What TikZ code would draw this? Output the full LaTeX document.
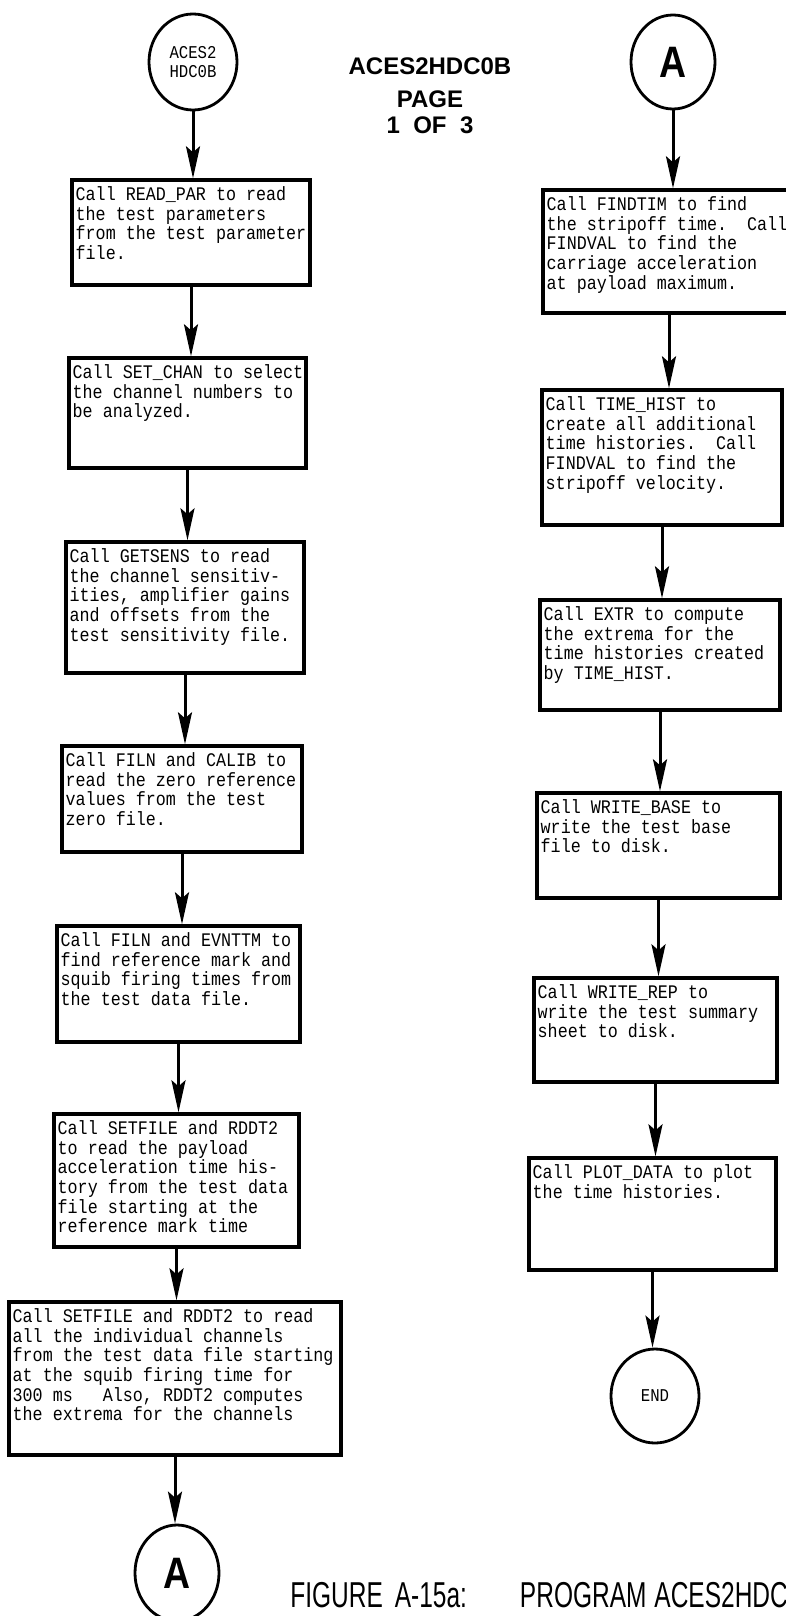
\documentclass[tikz,border=0pt]{standalone}
\usepackage{fontspec}
\usetikzlibrary{arrows.meta,shapes.geometric,fit}

\newfontfamily\boxfont[FakeStretch=0.87]{Liberation Mono}
\newfontfamily\labfont[FakeStretch=0.85]{Liberation Sans}
\newfontfamily\titlefont{Liberation Sans}
\newfontfamily\capfont[FakeStretch=0.68]{Liberation Sans}

\tikzset{
  procbox/.style={draw, line width=1.7pt, inner sep=0pt},
  boxtext/.style={anchor=north west, align=left, inner xsep=2.5pt, inner ysep=4pt,
    font={\boxfont\fontsize{9.6}{9.8}\selectfont\frenchspacing}},
  term/.style={draw, ellipse, line width=1.4pt, inner sep=0pt, align=center},
  flow/.style={line width=1.5pt, -{Stealth[length=16pt, width=7pt, inset=3pt]}},
  headtext/.style={font={\titlefont\bfseries\fontsize{12}{12}\selectfont}},
}

\begin{document}
\begin{tikzpicture}[x=0.5pt, y=-0.5pt]

    % --- Page frame (786 x 1616) ---
    \useasboundingbox (0,0) rectangle (786,1616);
    \fill[white] (0,0) rectangle (786,1616);

    % --- Heading ---
    \node[headtext] (title) at (430,66) {ACES2HDC0B};
    \node[headtext] (page) at (430,99) {PAGE};
    \node[headtext] (pageno) at (430,125) {1\ \ OF\ \ 3};

    % --- Left column ---
    \node[term, minimum width=44pt, minimum height=48pt,
          font={\boxfont\fontsize{9}{9.5}\selectfont}] (start) at (193,62) {ACES2\\HDC0B};

    \node[procbox, fit={(72,180) (310,285)}] (b1) {};
    \node[boxtext] at (b1.north west) {Call READ\_PAR to read\\the test parameters\\from the test parameter\\file.};

    \node[procbox, fit={(69,358) (306,468)}] (b2) {};
    \node[boxtext] at (b2.north west) {Call SET\_CHAN to select\\the channel numbers to\\be analyzed.};

    \node[procbox, fit={(66,542) (304,673)}] (b3) {};
    \node[boxtext] at (b3.north west) {Call GETSENS to read\\the channel sensitiv-\\ities, amplifier gains\\and offsets from the\\test sensitivity file.};

    \node[procbox, fit={(62,746) (302,852)}] (b4) {};
    \node[boxtext] at (b4.north west) {Call FILN and CALIB to\\read the zero reference\\values from the test\\zero file.};

    \node[procbox, fit={(57,926) (300,1042)}] (b5) {};
    \node[boxtext] at (b5.north west) {Call FILN and EVNTTM to\\find reference mark and\\squib firing times from\\the test data file.};

    \node[procbox, fit={(54,1114) (299,1247)}] (b6) {};
    \node[boxtext] at (b6.north west) {Call SETFILE and RDDT2\\to read the payload\\acceleration time his-\\tory from the test data\\file starting at the\\reference mark time};

    \node[procbox, fit={(9,1302) (341,1455)}] (b7) {};
    \node[boxtext] at (b7.north west) {Call SETFILE and RDDT2 to read\\all the individual channels\\from the test data file starting\\at the squib firing time for\\300 ms~~ Also, RDDT2 computes\\the extrema for the channels};

    \node[term, minimum width=42pt, minimum height=48pt,
          font={\labfont\bfseries\fontsize{22}{22}\selectfont}] (abot) at (177,1573) {A};

    % --- Right column ---
    \node[term, minimum width=42pt, minimum height=47pt,
          font={\labfont\bfseries\fontsize{22}{22}\selectfont}] (atop) at (673,62) {A};

    \node[procbox, fit={(543,190) (795,313)}] (r1) {};
    \node[boxtext] at (r1.north west) {Call FINDTIM to find\\the stripoff time.~ Call\\FINDVAL to find the\\carriage acceleration\\at payload maximum.};

    \node[procbox, fit={(542,390) (782,525)}] (r2) {};
    \node[boxtext] at (r2.north west) {Call TIME\_HIST to\\create all additional\\time histories.~ Call\\FINDVAL to find the\\stripoff velocity.};

    \node[procbox, fit={(540,600) (780,710)}] (r3) {};
    \node[boxtext] at (r3.north west) {Call EXTR to compute\\the extrema for the\\time histories created\\by TIME\_HIST.};

    \node[procbox, fit={(537,793) (780,898)}] (r4) {};
    \node[boxtext] at (r4.north west) {Call WRITE\_BASE to\\write the test base\\file to disk.};

    \node[procbox, fit={(534,978) (777,1082)}] (r5) {};
    \node[boxtext] at (r5.north west) {Call WRITE\_REP to\\write the test summary\\sheet to disk.};

    \node[procbox, fit={(529,1158) (776,1270)}] (r6) {};
    \node[boxtext] at (r6.north west) {Call PLOT\_DATA to plot\\the time histories.};

    \node[term, minimum width=44pt, minimum height=47pt,
          font={\boxfont\fontsize{9}{9.5}\selectfont}] (stop) at (655,1396) {END};

    % --- Flow lines ---
    \draw[flow] (start.south) -- (start.south |- b1.north);
    \draw[flow] (b1.south) -- (b1.south |- b2.north);
    \draw[flow] (b2.south) -- (b2.south |- b3.north);
    \draw[flow] (b3.south) -- (b3.south |- b4.north);
    \draw[flow] (b4.south) -- (b4.south |- b5.north);
    \draw[flow] (b5.south) -- (b5.south |- b6.north);
    \draw[flow] (b6.south) -- (b6.south |- b7.north);
    \draw[flow] (b7.south) -- (b7.south |- abot.north);

    \draw[flow] (atop.south) -- (atop.south |- r1.north);
    \draw[flow] (r1.south) -- (r1.south |- r2.north);
    \draw[flow] (r2.south) -- (r2.south |- r3.north);
    \draw[flow] (r3.south) -- (r3.south |- r4.north);
    \draw[flow] (r4.south) -- (r4.south |- r5.north);
    \draw[flow] (r5.south) -- (r5.south |- r6.north);
    \draw[flow] (r6.south) -- (r6.south |- stop.north);

    % --- Caption ---
    \node[anchor=base west, inner sep=0pt, font={\capfont\fontsize{18}{18}\selectfont}] (caption) at (290,1607)
        {FIGURE\hspace{6pt}A-15a:\hspace{26.5pt}PROGRAM\hspace{4pt}ACES2HDC0B};

\end{tikzpicture}
\end{document}
